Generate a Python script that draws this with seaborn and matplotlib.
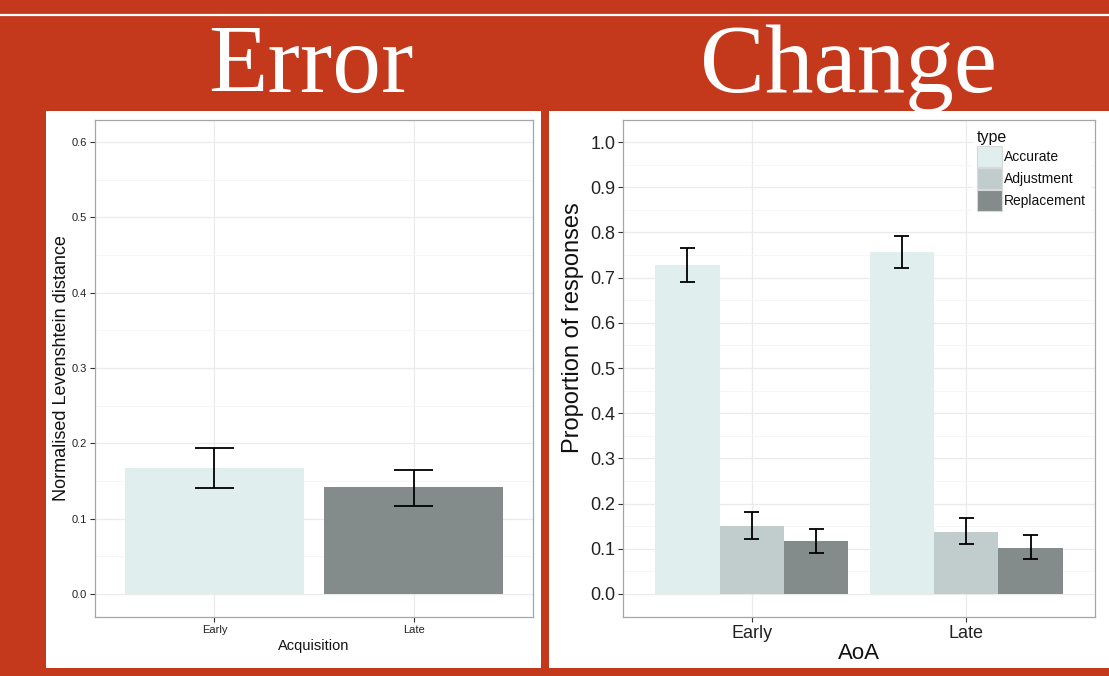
import matplotlib
matplotlib.use("Agg")
import matplotlib.pyplot as plt
from matplotlib.lines import Line2D
from matplotlib.patches import Rectangle, Patch
import seaborn as sns
import pandas as pd
import numpy as np

# ---------------- data ----------------
err_cats = ["Early", "Late"]
err_vals = [0.167, 0.142]
err_lo = [0.141, 0.117]
err_hi = [0.194, 0.165]

chg_aoa = ["Early", "Early", "Early", "Late", "Late", "Late"]
chg_type = ["Accurate", "Adjustment", "Replacement", "Accurate", "Adjustment", "Replacement"]
chg_vals = [0.728, 0.150, 0.117, 0.757, 0.137, 0.102]
chg_lo = [0.690, 0.122, 0.091, 0.721, 0.111, 0.077]
chg_hi = [0.765, 0.181, 0.144, 0.792, 0.168, 0.131]

type_levels = ["Accurate", "Adjustment", "Replacement"]
type_colors = ["#E0EEEE", "#C1CDCD", "#838B8B"]
err_colors = ["#E0EEEE", "#838B8B"]

# ---------------- figure ----------------
W, H = 1109, 676
RED = "#C4391B"
sns.set_theme(style="white")
plt.rcParams["font.family"] = ["Liberation Sans", "DejaVu Sans"]

fig = plt.figure(figsize=(W / 100, H / 100), dpi=100, facecolor=RED)

def fx(px):
    return px / W

def fy(py):
    return 1 - py / H

# white panels
fig.patches.append(Rectangle((fx(46), fy(668)), fx(541) - fx(46), fy(111) - fy(668),
                             transform=fig.transFigure, facecolor="white", edgecolor="none", zorder=-5))
fig.patches.append(Rectangle((fx(549), fy(668)), fx(1109) - fx(549), fy(111) - fy(668),
                             transform=fig.transFigure, facecolor="white", edgecolor="none", zorder=-5))
# thin white line at top
fig.lines.append(Line2D([0, 1], [fy(14.5), fy(14.5)], transform=fig.transFigure,
                        color="white", lw=1.6, zorder=-4))

# titles
fig.text(fx(311), fy(92), "Error", color="white", fontsize=70, ha="center", va="baseline",
         family=["Liberation Serif", "DejaVu Serif"], zorder=-3)
fig.text(fx(848), fy(92), "Change", color="white", fontsize=70, ha="center", va="baseline",
         family=["Liberation Serif", "DejaVu Serif"], zorder=-3)


def style_axes(ax, ymin, ymax, major, minor, tick_fs):
    ax.set_facecolor("white")
    ax.set_ylim(ymin, ymax)
    ax.set_xlim(-0.6, 1.6)
    ax.set_yticks(major)
    ax.set_yticks(minor, minor=True)
    ax.set_yticklabels([f"{v:.1f}" for v in major])
    ax.grid(True, which="major", axis="both", color="#EBEBEB", lw=0.9, zorder=0)
    ax.grid(True, which="minor", axis="y", color="#F5F5F5", lw=0.6, zorder=0)
    ax.set_axisbelow(True)
    for s in ax.spines.values():
        s.set_visible(True)
        s.set_color("#A6A6A6")
        s.set_linewidth(0.9)
    ax.tick_params(axis="both", which="major", length=3.5, width=0.8, color="#333333",
                   labelsize=tick_fs, labelcolor="#222222", pad=2, direction="out",
                   left=True, bottom=True)
    ax.tick_params(axis="y", which="minor", length=0)


# ---------------- left: Error ----------------
axL = fig.add_axes([fx(95), fy(617), fx(533) - fx(95), fy(120) - fy(617)])
dfL = pd.DataFrame({"Acquisition": err_cats, "val": err_vals})
sns.barplot(data=dfL, x="Acquisition", y="val", hue="Acquisition", palette=err_colors,
            width=0.9, errorbar=None, legend=False, ax=axL, saturation=1, zorder=2)
for p in axL.patches:
    p.set_edgecolor("none")
xL = np.arange(len(err_cats))
axL.vlines(xL, err_lo, err_hi, color="black", lw=1.3, zorder=3)
axL.hlines(err_lo, xL - 0.1, xL + 0.1, color="black", lw=1.3, zorder=3)
axL.hlines(err_hi, xL - 0.1, xL + 0.1, color="black", lw=1.3, zorder=3)
style_axes(axL, -0.0305, 0.629, np.arange(0, 0.61, 0.1), np.arange(0.05, 0.6, 0.1), 8)
axL.set_xlim(-0.6, 1.6)
axL.set_xlabel("Acquisition", fontsize=10.5, color="#111111", labelpad=3)
axL.set_ylabel("Normalised Levenshtein distance", fontsize=13, color="#111111")
axL.yaxis.set_label_coords(-0.058, 0.5)

# ---------------- right: Change ----------------
axR = fig.add_axes([fx(623), fy(617), fx(1095) - fx(623), fy(120) - fy(617)])
dfR = pd.DataFrame({"AoA": chg_aoa, "type": chg_type, "val": chg_vals,
                    "lo": chg_lo, "hi": chg_hi})
sns.barplot(data=dfR, x="AoA", y="val", hue="type", hue_order=type_levels,
            palette=type_colors, width=0.9, errorbar=None, ax=axR, saturation=1, zorder=2)
# error bars at the bar centres
centres = {}
for cont, t in zip(axR.containers, type_levels):
    for bar, a in zip(cont, ["Early", "Late"]):
        bar.set_edgecolor("none")
        centres[(a, t)] = bar.get_x() + bar.get_width() / 2
xr = np.array([centres[(a, t)] for a, t in zip(chg_aoa, chg_type)])
cw = 0.035
axR.vlines(xr, chg_lo, chg_hi, color="black", lw=1.3, zorder=3)
axR.hlines(chg_lo, xr - cw, xr + cw, color="black", lw=1.3, zorder=3)
axR.hlines(chg_hi, xr - cw, xr + cw, color="black", lw=1.3, zorder=3)
style_axes(axR, -0.0509, 1.0487, np.arange(0, 1.01, 0.1), np.arange(0.05, 1.0, 0.1), 13)
axR.set_xlabel("AoA", fontsize=16, color="#111111", labelpad=1)
axR.set_ylabel("Proportion of responses", fontsize=17, color="#111111")
axR.yaxis.set_label_coords(-0.083, (617 - 328) / 497)

handles = [Patch(facecolor=c, edgecolor="#D9D9D9", lw=0.8) for c in type_colors]
x_anchor = (1090 - 623) / 472
y_anchor = (617 - 126) / 497
leg = axR.legend(handles, type_levels, title="type", loc="upper right",
                 bbox_to_anchor=(x_anchor, y_anchor), frameon=True,
                 fontsize=10, title_fontsize=11.5, handlelength=1.8, handleheight=1.95,
                 labelspacing=0.06, handletextpad=0.15, borderpad=0.3,
                 borderaxespad=0)
leg.get_frame().set_facecolor("white")
leg.get_frame().set_edgecolor("white")
leg.get_frame().set_alpha(1)
leg._legend_box.align = "left"
leg.get_title().set_color("#111111")
for t in leg.get_texts():
    t.set_color("#111111")

fig.savefig("out.png", dpi=100, facecolor=RED)
